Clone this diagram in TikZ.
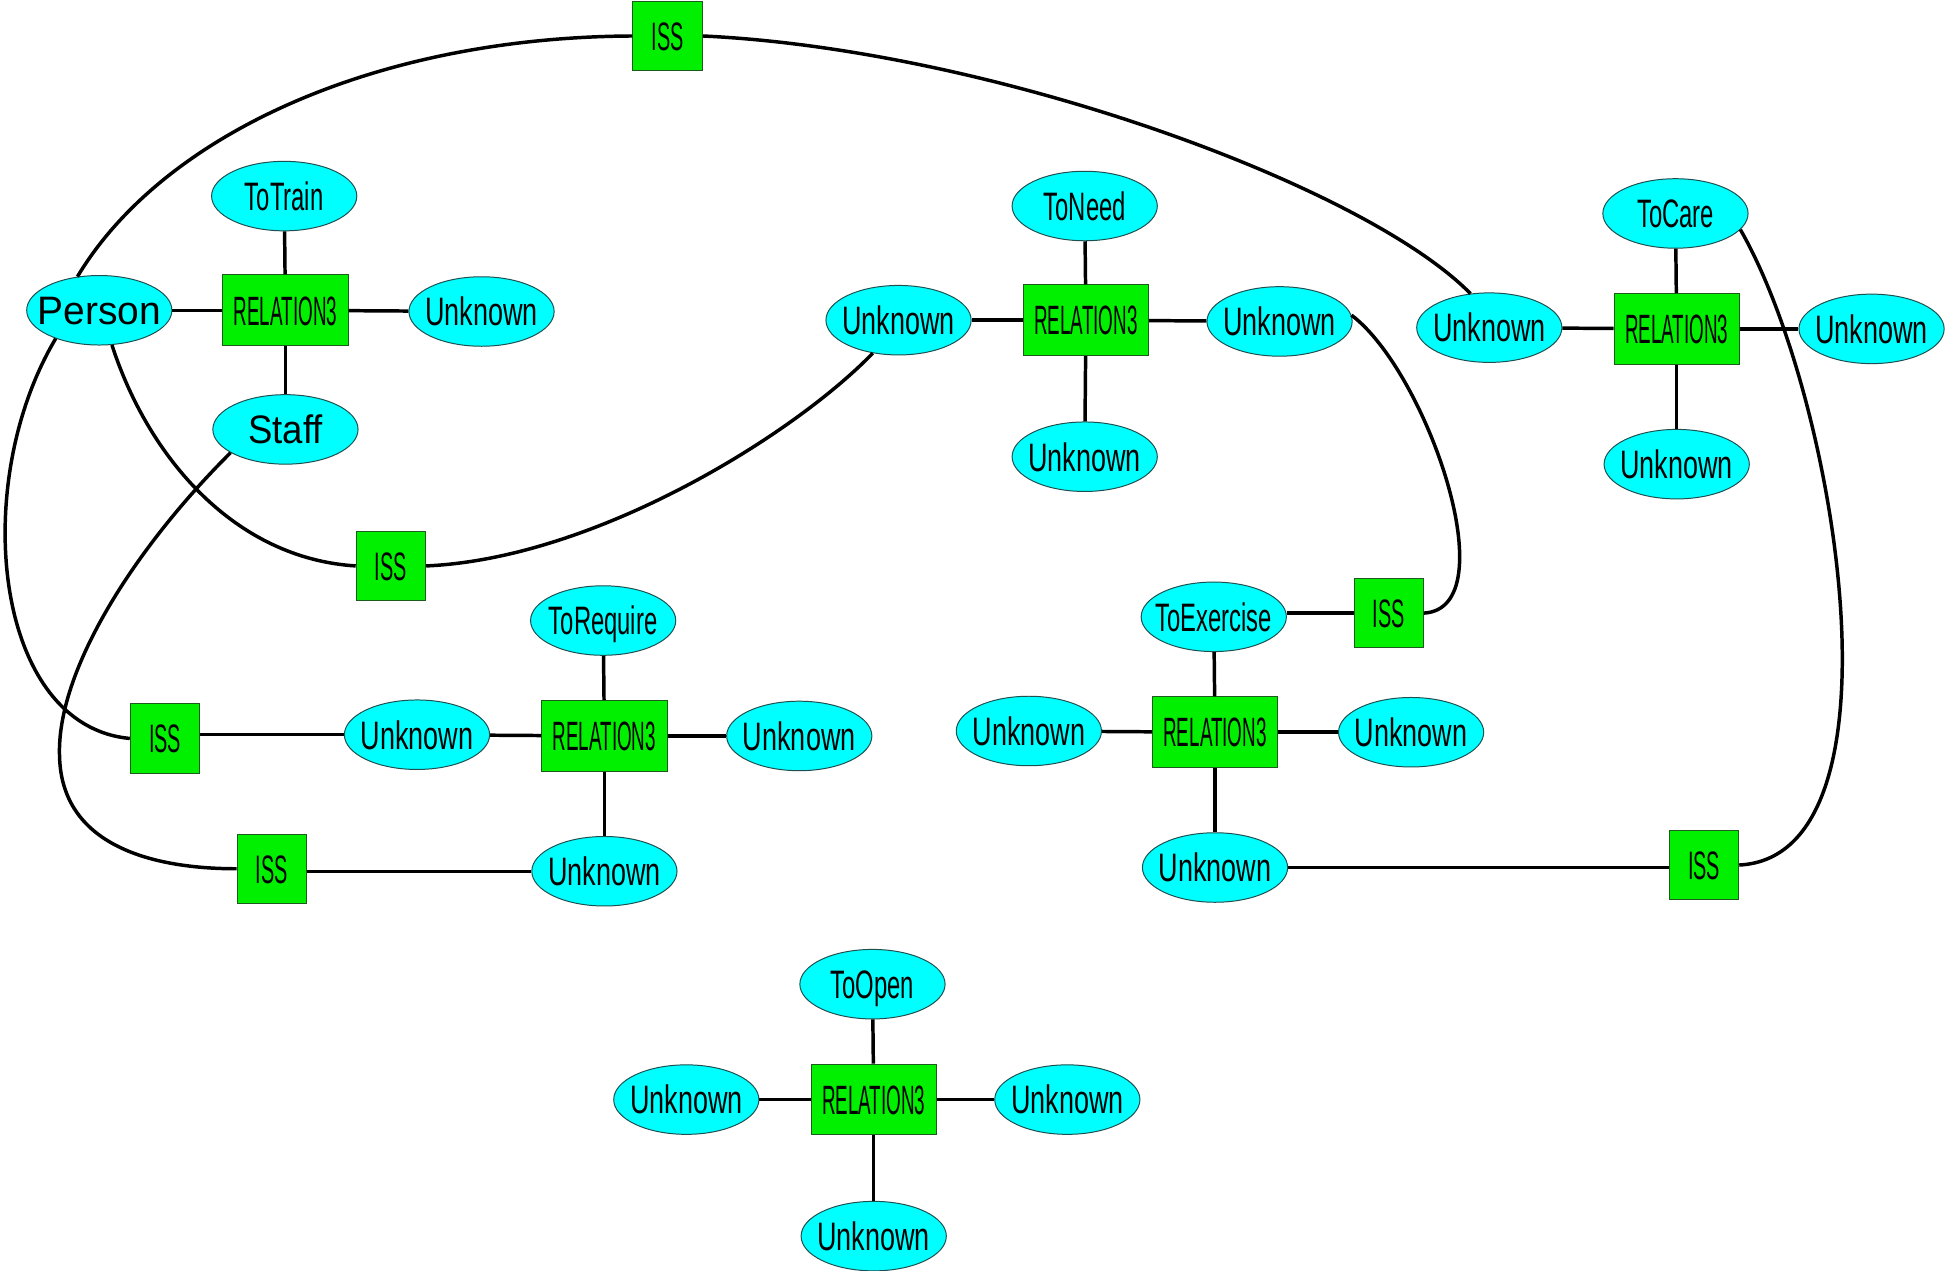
\documentclass[tikz,border=0pt]{standalone}
\usepackage{fontspec}
\setmainfont{Liberation Sans}
\usepackage{graphicx}
\usetikzlibrary{shapes.geometric}
\definecolor{ecyan}{HTML}{00FFFF}
\definecolor{bgreen}{HTML}{00F000}
\definecolor{edark}{HTML}{1F4F4F}
\definecolor{gdark}{HTML}{1E5A1E}
\newcommand\sq[2]{\makebox[0pt]{\raisebox{-0.36em}[0pt][0pt]{\scalebox{#1}[1]{#2}}}}
\begin{document}
\begin{tikzpicture}[x=1pt,y=-1pt,
  ent/.style={ellipse, draw=edark, fill=ecyan, line width=0.8pt, minimum width=117pt, minimum height=56pt, inner sep=0pt, font=\fontsize{32}{36}\selectfont},
  relbox/.style={rectangle, draw=gdark, fill=bgreen, line width=0.8pt, minimum width=101pt, minimum height=57pt, inner sep=0pt, font=\fontsize{33}{36}\selectfont},
  issbox/.style={rectangle, draw=gdark, fill=bgreen, line width=0.8pt, minimum width=56pt, minimum height=56pt, inner sep=0pt, font=\fontsize{32}{36}\selectfont},
  link/.style={line width=2.8pt, black}]
\useasboundingbox[fill=white] (0,0) rectangle (1568,1024);
% cluster 1
\node[ent] (ToTrain) at (229,158) {\sq{0.6}{ToTrain}};
\node[relbox] (rel1) at (230,250) {\sq{0.46}{RELATION3}};
\node[ent] (Person) at (80,250) {\sq{0.98}{Person}};
\node[ent] (u1r) at (388,251) {\sq{0.68}{Unknown}};
\node[ent] (Staff) at (230,346) {\sq{0.92}{Staff}};
% cluster 2
\node[ent] (ToNeed) at (874,166) {\sq{0.6}{ToNeed}};
\node[relbox] (rel2) at (875,258) {\sq{0.46}{RELATION3}};
\node[ent] (u2l) at (724,258) {\sq{0.68}{Unknown}};
\node[ent] (u2r) at (1031,259) {\sq{0.68}{Unknown}};
\node[ent] (u2b) at (874,368) {\sq{0.68}{Unknown}};
% cluster 3
\node[ent] (ToCare) at (1350,172) {\sq{0.6}{ToCare}};
\node[relbox] (rel3) at (1351,265) {\sq{0.46}{RELATION3}};
\node[ent] (u3l) at (1200,264) {\sq{0.68}{Unknown}};
\node[ent] (u3r) at (1508,265) {\sq{0.68}{Unknown}};
\node[ent] (u3b) at (1351,374) {\sq{0.68}{Unknown}};
% cluster 4
\node[ent] (ToRequire) at (486,500) {\sq{0.6}{ToRequire}};
\node[relbox] (rel4) at (487,593) {\sq{0.46}{RELATION3}};
\node[ent] (u4l) at (336,592) {\sq{0.68}{Unknown}};
\node[ent] (u4r) at (644,593) {\sq{0.68}{Unknown}};
\node[ent] (u4b) at (487,702) {\sq{0.68}{Unknown}};
\node[issbox] (issA) at (133,595) {\sq{0.5}{ISS}};
\node[issbox] (issB) at (219,700) {\sq{0.5}{ISS}};
% cluster 5
\node[ent] (ToExercise) at (978,497) {\sq{0.6}{ToExercise}};
\node[issbox] (issC) at (1119,494) {\sq{0.5}{ISS}};
\node[relbox] (rel5) at (979,590) {\sq{0.46}{RELATION3}};
\node[ent] (u5l) at (829,589) {\sq{0.68}{Unknown}};
\node[ent] (u5r) at (1137,590) {\sq{0.68}{Unknown}};
\node[ent] (u5b) at (979,699) {\sq{0.68}{Unknown}};
\node[issbox] (issD) at (1373,697) {\sq{0.5}{ISS}};
% cluster 6
\node[ent] (ToOpen) at (703,793) {\sq{0.6}{ToOpen}};
\node[relbox] (rel6) at (704,886) {\sq{0.46}{RELATION3}};
\node[ent] (u6l) at (553,886) {\sq{0.68}{Unknown}};
\node[ent] (u6r) at (860,886) {\sq{0.68}{Unknown}};
\node[ent] (u6b) at (704,996) {\sq{0.68}{Unknown}};
% free ISS
\node[issbox] (issM) at (315,456) {\sq{0.5}{ISS}};
\node[issbox] (issT) at (538,29) {\sq{0.5}{ISS}};
% cluster links
\draw[link] (rel1) -- (ToTrain); \draw[link] (rel1) -- (Person); \draw[link] (rel1) -- (u1r); \draw[link] (rel1) -- (Staff);
\draw[link] (rel2) -- (ToNeed); \draw[link] (rel2) -- (u2l); \draw[link] (rel2) -- (u2r); \draw[link] (rel2) -- (u2b);
\draw[link] (rel3) -- (ToCare); \draw[link] (rel3) -- (u3l); \draw[link] (rel3) -- (u3r); \draw[link] (rel3) -- (u3b);
\draw[link] (rel4) -- (ToRequire); \draw[link] (rel4) -- (u4l); \draw[link] (rel4) -- (u4r); \draw[link] (rel4) -- (u4b);
\draw[link] (rel5) -- (ToExercise); \draw[link] (rel5) -- (u5l); \draw[link] (rel5) -- (u5r); \draw[link] (rel5) -- (u5b);
\draw[link] (rel6) -- (ToOpen); \draw[link] (rel6) -- (u6l); \draw[link] (rel6) -- (u6r); \draw[link] (rel6) -- (u6b);
% ISS links
\draw[link] (issA.east |- u4l.west) -- (u4l.west);
\draw[link] (issB.east |- u4b.west) -- (u4b.west);
\draw[link] (ToExercise.east |- issC.west) -- (issC.west);
\draw[link] (u5b.east) -- (issD.west |- u5b.east);
\draw[link] (Person.123) .. controls (130,110) and (300,30) .. (issT.west);
\draw[link] (issT.east) .. controls (800,40) and (1100,150) .. (u3l.119);
\draw[link] (Person.213) .. controls (-25,390) and (-5,585) .. (issA.west);
\draw[link] (Person.290) .. controls (120,370) and (190,450) .. (issM.west);
\draw[link] (issM.east) .. controls (480,450) and (640,350) .. (u2l.232);
\draw[link] (Staff.203) .. controls (110,440) and (45,540) .. (48,610) .. controls (50,680) and (120,700) .. (issB.west);
\draw[link] (u2r.5) .. controls (1150,300) and (1215,490) .. (issC.east);
\draw[link] (ToCare.-14) .. controls (1480,320) and (1540,690) .. (issD.east);
\end{tikzpicture}
\end{document}
